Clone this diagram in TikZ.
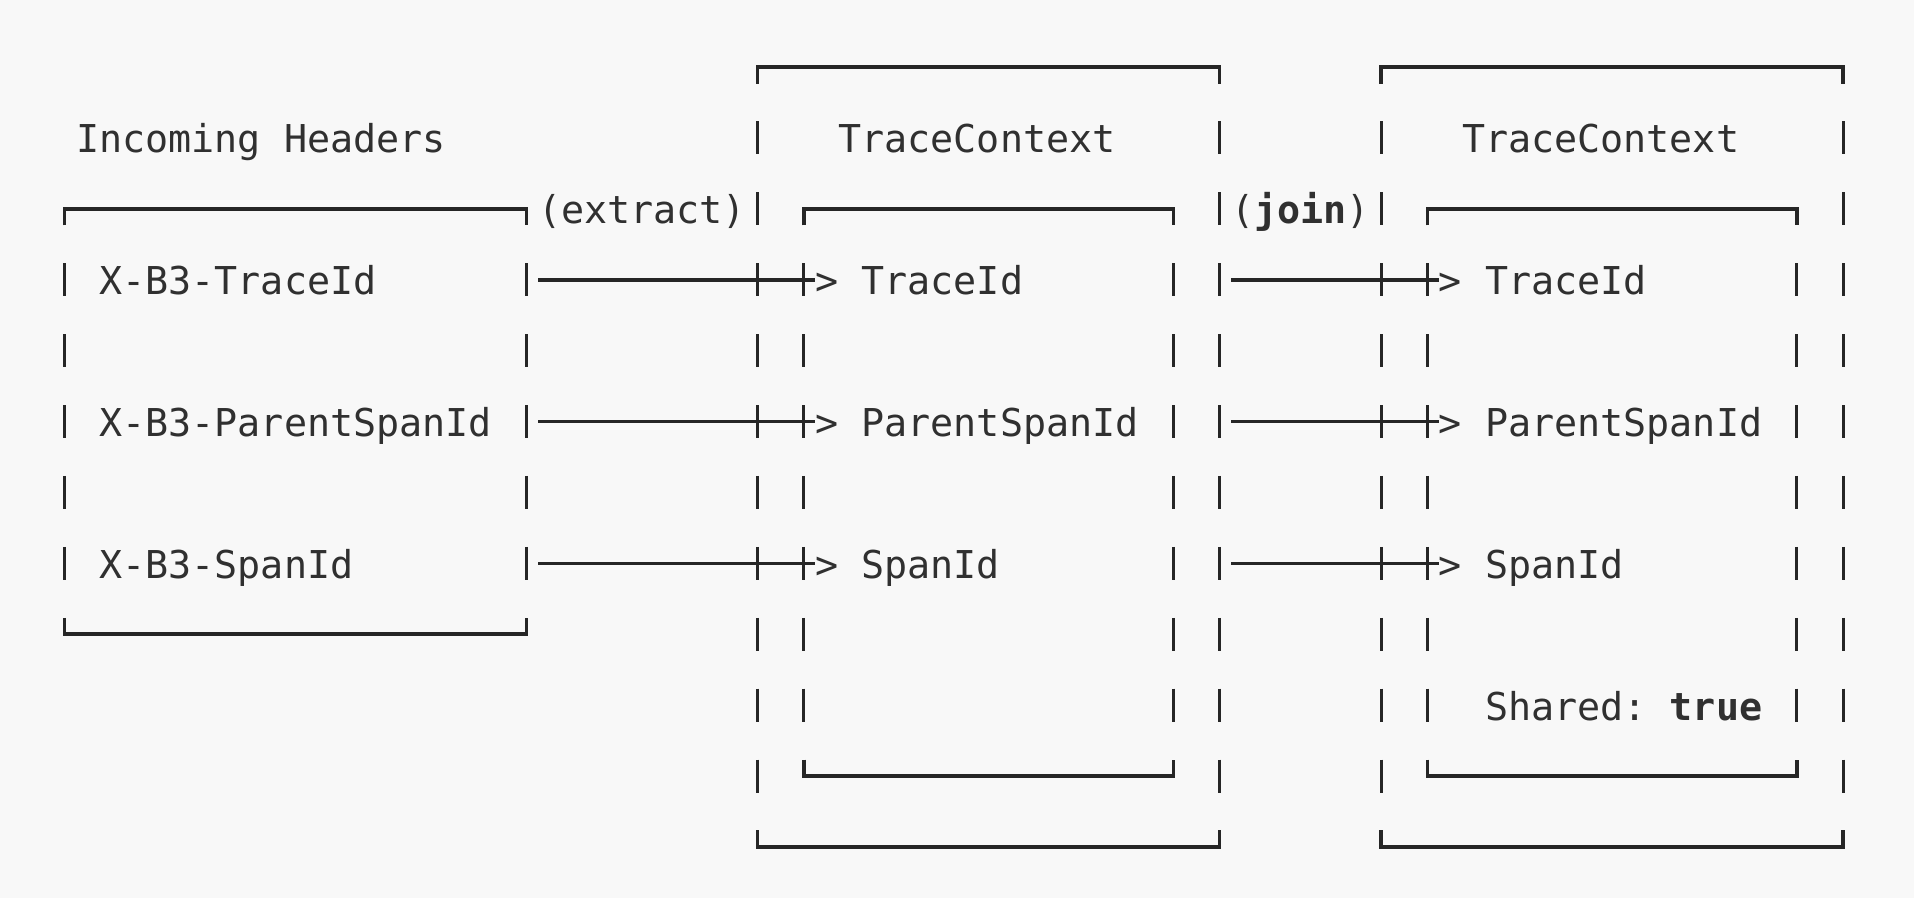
\documentclass[tikz,border=0pt]{standalone}
\usepackage{fontspec}
\newfontfamily\mono{DejaVu Sans Mono}
\definecolor{ink}{HTML}{303030}
\definecolor{linec}{HTML}{262626}
\definecolor{bg}{HTML}{F8F8F8}
\begin{document}
\begin{tikzpicture}[x=23.096pt,y=-70.9pt,
  txt/.style={anchor=base west,inner sep=0pt,outer sep=0pt,text=ink,font={\mono\fontsize{38.36pt}{46pt}\selectfont\frenchspacing}},
  hline/.style={draw=linec,line width=3.6pt,miter limit=10},
  vside/.style={draw=linec,line width=3pt,dash pattern=on 33pt off 37.9pt},
  shaft/.style={draw=linec,line width=3.6pt}]
\fill[bg] (-2.801,-0.946) rectangle (80.07,11.719);
\useasboundingbox (-2.801,-0.946) rectangle (80.07,11.719);

% ---------- left box: Incoming Headers ----------
\draw[hline] (0,2.2327) -- (0,2) -- (20,2) -- (20,2.2327);
\draw[hline] (0,7.7673) -- (0,8) -- (20,8) -- (20,7.7673);
\draw[vside] (0,2.7673) -- (0,7.2327);
\draw[vside] (20,2.7673) -- (20,7.2327);

% ---------- first TraceContext ----------
\draw[hline] (30,0.2327) -- (30,0) -- (50,0) -- (50,0.2327);
\draw[hline] (30,10.7673) -- (30,11) -- (50,11) -- (50,10.7673);
\draw[vside] (30,0.7673) -- (30,10.2327);
\draw[vside] (50,0.7673) -- (50,10.2327);
\draw[hline] (32,2.2327) -- (32,2) -- (48,2) -- (48,2.2327);
\draw[hline] (32,9.7673) -- (32,10) -- (48,10) -- (48,9.7673);
\draw[vside] (32,2.7673) -- (32,9.2327);
\draw[vside] (48,2.7673) -- (48,9.2327);

% ---------- second TraceContext ----------
\draw[hline] (57,0.2327) -- (57,0) -- (77,0) -- (77,0.2327);
\draw[hline] (57,10.7673) -- (57,11) -- (77,11) -- (77,10.7673);
\draw[vside] (57,0.7673) -- (57,10.2327);
\draw[vside] (77,0.7673) -- (77,10.2327);
\draw[hline] (59,2.2327) -- (59,2) -- (75,2) -- (75,2.2327);
\draw[hline] (59,9.7673) -- (59,10) -- (75,10) -- (75,9.7673);
\draw[vside] (59,2.7673) -- (59,9.2327);
\draw[vside] (75,2.7673) -- (75,9.2327);

% ---------- texts ----------
\node[txt] (hdr) at (0.5,1.2116) {Incoming Headers};
\node[txt] (tc1) at (33.5,1.2116) {TraceContext};
\node[txt] (tc2) at (60.5,1.2116) {TraceContext};
\node[txt] (ex)  at (20.5,2.2116) {(extract)};
\node[txt] (jn)  at (50.5,2.2116) {(\textbf{join})};

\node[txt] (h1) at (1.5,3.2116) {X-B3-TraceId};
\node[txt] (h2) at (1.5,5.2116) {X-B3-ParentSpanId};
\node[txt] (h3) at (1.5,7.2116) {X-B3-SpanId};

\node[txt] (a1) at (34.5,3.2116) {TraceId};
\node[txt] (a2) at (34.5,5.2116) {ParentSpanId};
\node[txt] (a3) at (34.5,7.2116) {SpanId};

\node[txt] (b1) at (61.5,3.2116) {TraceId};
\node[txt] (b2) at (61.5,5.2116) {ParentSpanId};
\node[txt] (b3) at (61.5,7.2116) {SpanId};
\node[txt] (sh) at (61.5,9.2116) {Shared: \textbf{true}};

% ---------- arrow heads ----------
\node[txt] (ga1) at (32.5,3.2116) {>};
\node[txt] (ga2) at (32.5,5.2116) {>};
\node[txt] (ga3) at (32.5,7.2116) {>};
\node[txt] (gb1) at (59.5,3.2116) {>};
\node[txt] (gb2) at (59.5,5.2116) {>};
\node[txt] (gb3) at (59.5,7.2116) {>};

% ---------- connectors ----------
\coordinate (sa1) at (20.5,3);
\coordinate (sa2) at (20.5,5);
\coordinate (sa3) at (20.5,7);
\coordinate (sb1) at (50.5,3);
\coordinate (sb2) at (50.5,5);
\coordinate (sb3) at (50.5,7);
\draw[shaft] (sa1) -- (sa1 -| ga1.west);
\draw[shaft] (sa2) -- (sa2 -| ga2.west);
\draw[shaft] (sa3) -- (sa3 -| ga3.west);
\draw[shaft] (sb1) -- (sb1 -| gb1.west);
\draw[shaft] (sb2) -- (sb2 -| gb2.west);
\draw[shaft] (sb3) -- (sb3 -| gb3.west);
\end{tikzpicture}
\end{document}
